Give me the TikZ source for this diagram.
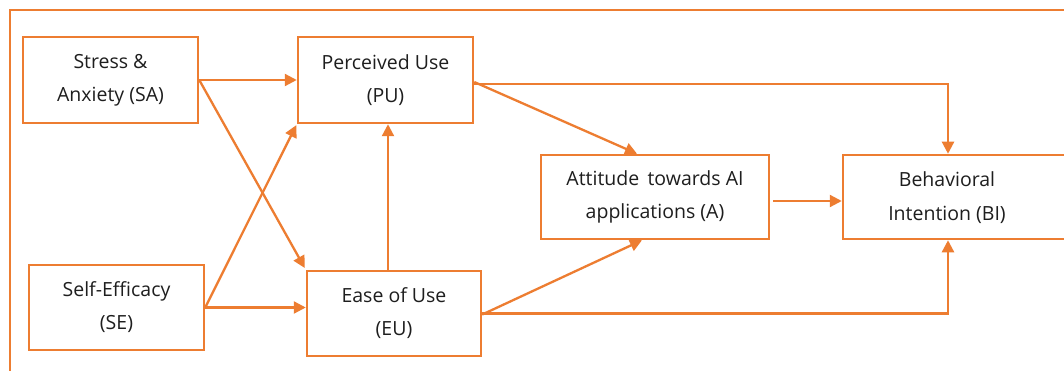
\documentclass[tikz,border=0pt]{standalone}
\usepackage{fontspec}
\setmainfont{Open Sans}
\usetikzlibrary{arrows.meta}
\definecolor{acc}{HTML}{ED7D31}
\definecolor{txt}{HTML}{1E1E1E}
\begin{document}
\begin{tikzpicture}[x=1pt,y=-1pt,
  box/.style={draw=acc, line width=2.5pt, rectangle, align=center, text=txt,
    font=\fontsize{19.5}{33}\selectfont, inner sep=0pt},
  conn/.style={draw=acc, line width=2.3pt, -{Triangle[length=12pt,width=12pt]}}]
\useasboundingbox (0,0) rectangle (1064,371);
\clip (0,0) rectangle (1064,371);
\fill[white] (0,0) rectangle (1064,371);
\draw[acc, line width=2.2pt] (10,10) rectangle (1120,420);
\node[box, minimum width=175pt, minimum height=86pt] (SA) at (110.5,80) {Stress \&\\Anxiety (SA)};
\node[box, minimum width=175pt, minimum height=86pt] (PU) at (385.5,80) {Perceived Use\\(PU)};
\node[box, minimum width=175pt, minimum height=85pt] (SE) at (116.5,307.5) {Self-Efficacy\\(SE)};
\node[box, minimum width=174pt, minimum height=85pt] (EU) at (394,313.5) {Ease of Use\\(EU)};
\node[box, minimum width=228pt, minimum height=84pt] (A) at (655,197) {Attitude\, towards AI\\applications (A)};
\node[box, minimum width=240pt, minimum height=84pt] (BI) at (963,197) {\begin{tabular}{@{}c@{}}Behavioral\\[1pt]Intention (BI)\end{tabular}\hspace{32pt}};
\draw[conn] (SA.east) -- (PU.west);
\draw[conn, shorten >=2pt] (SA.east) -- (EU.north west);
\draw[conn, shorten >=1pt] (SE.east) -- (PU.south west);
\draw[conn] (SE.east) -- (SE.east -| EU.west);
\draw[conn] ([xshift=-6pt]EU.north) -- ([xshift=-6pt]EU.north |- PU.south);
\draw[conn] ([yshift=-2pt]PU.east) -- ([xshift=-18pt]A.north);
\draw[conn] ([yshift=-4pt]PU.east) -| ([xshift=-15pt]BI.north);
\draw[conn] ([yshift=-4pt,xshift=3pt]A.east) -- ([yshift=-4pt]BI.west);
\draw[conn] ([yshift=-1pt]EU.east) -- ([xshift=-13pt]A.south);
\draw[conn] (EU.east) -| ([xshift=-15pt]BI.south);
\end{tikzpicture}
\end{document}
